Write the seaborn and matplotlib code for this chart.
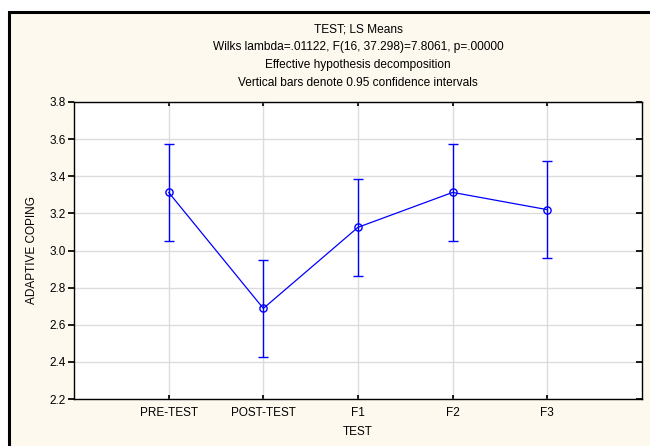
import numpy as np
import pandas as pd
import matplotlib
matplotlib.use("Agg")
import matplotlib.pyplot as plt
import seaborn as sns
from matplotlib.patches import Rectangle

# LS means of adaptive coping per test occasion, with 95% CI half-widths
tests = ["PRE-TEST", "POST-TEST", "F1", "F2", "F3"]
means = [3.313, 2.688, 3.125, 3.313, 3.220]
ci_half = [0.262, 0.262, 0.262, 0.262, 0.262]
y_ticks = [2.2, 2.4, 2.6, 2.8, 3.0, 3.2, 3.4, 3.6, 3.8]
title_lines = [
    "TEST; LS Means",
    "Wilks lambda=.01122, F(16, 37.298)=7.8061, p=.00000",
    "Effective hypothesis decomposition",
    "Vertical bars denote 0.95 confidence intervals",
]

sns.set_theme(style="white")
plt.rcParams["font.family"] = ["Liberation Sans", "DejaVu Sans"]
plt.rcParams["text.color"] = "black"
plt.rcParams["axes.labelcolor"] = "black"

df = pd.DataFrame({"TEST": tests, "mean": means, "ci": ci_half})

fig = plt.figure(figsize=(6.5, 4.46), dpi=100)
fig.patch.set_facecolor("white")
# cream panel with black frame, like the STATISTICA window
fig.patches.append(Rectangle((9 / 650, -0.05), 1.1, 1 - 12 / 446 + 0.05,
                             transform=fig.transFigure, facecolor="#fdf9ee",
                             edgecolor="black", linewidth=2.2, zorder=-5))

ax = fig.add_axes([74 / 650, 1 - 399 / 446, 568 / 650, 297 / 446])
ax.set_zorder(2)
ax.set_facecolor("white")

x = np.arange(len(tests))
ax.errorbar(x, df["mean"], yerr=df["ci"], fmt="none", ecolor="#0000ff",
            elinewidth=1, capsize=3.4, capthick=1, zorder=3)
sns.lineplot(x=x, y=df["mean"], ax=ax, color="#0000ff", linewidth=0.9,
             marker="o", markersize=5.2, markerfacecolor="none",
             markeredgecolor="#0000ff", markeredgewidth=1, zorder=4)

ax.set_xlim(-1, 5)
ax.set_ylim(2.2, 3.8)
ax.set_xticks(x)
ax.set_xticklabels(tests)
ax.set_yticks(y_ticks)
ax.set_yticklabels([f"{v:.1f}" for v in y_ticks])
ax.grid(True, color="#dcdcdc", linewidth=1)
ax.set_axisbelow(True)
for s in ax.spines.values():
    s.set_color("black")
    s.set_linewidth(1)
ax.tick_params(axis="y", left=True, right=True, direction="out", length=4,
               labelsize=8.5, colors="black", pad=2)
ax.tick_params(axis="x", bottom=True, top=True, direction="in", length=3,
               labelsize=8.5, colors="black", pad=6)
for t in ax.yaxis.get_ticklines()[1::2]:
    t.set_marker(matplotlib.markers.TICKLEFT)
ax.set_xlabel("TEST", fontsize=8.5, labelpad=5)
ax.set_ylabel("ADAPTIVE COPING", fontsize=8.5, labelpad=8)

for i, line in enumerate(title_lines):
    fig.text(358 / 650, 1 - (29 + 18 * i) / 446, line, ha="center",
             va="center", fontsize=8.6)

fig.savefig("out.png", dpi=100)
